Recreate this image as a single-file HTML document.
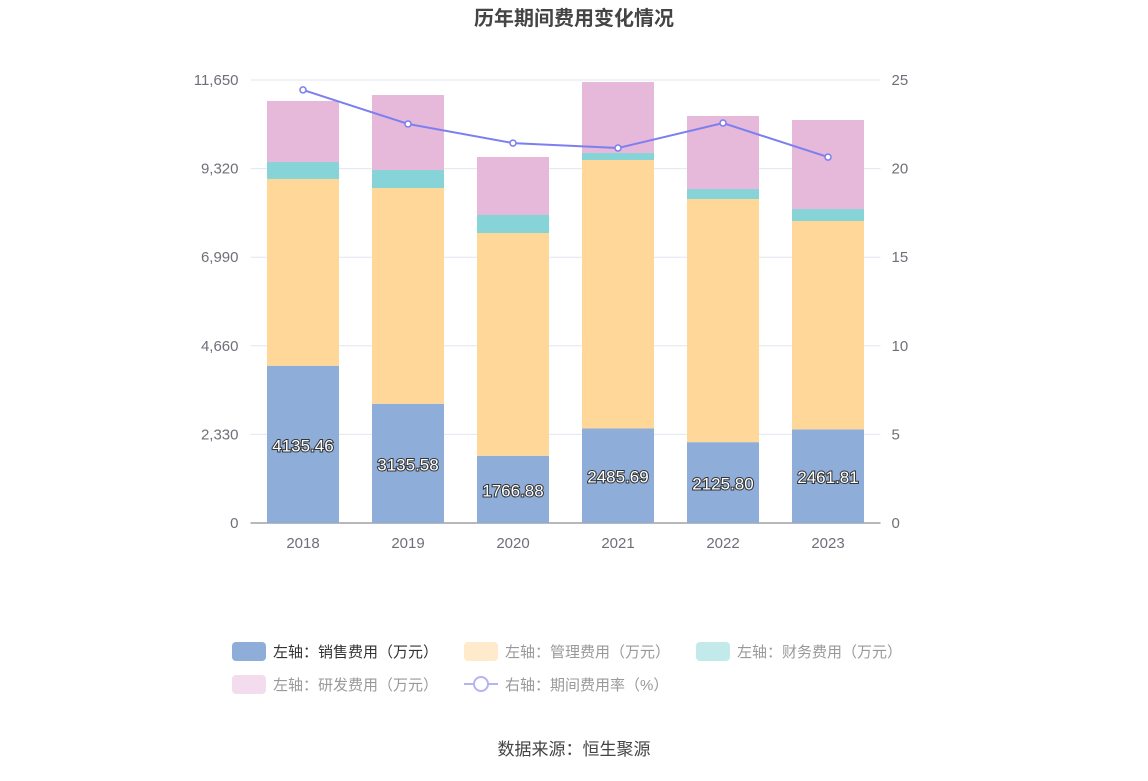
<!DOCTYPE html>
<html><head><meta charset="utf-8"><style>
body{margin:0;background:#fff;font-family:"Liberation Sans","Noto Sans CJK SC",sans-serif;}
</style></head><body>
<svg id="c" width="1148" height="776" xmlns="http://www.w3.org/2000/svg" style="font-family:'Liberation Sans','Noto Sans CJK SC',sans-serif">
<text x="574" y="25" text-anchor="middle" font-size="20" font-weight="bold" fill="#444">历年期间费用变化情况</text>
<g id="grid"></g><g id="bars"></g><g id="line"></g><g id="labels"></g>
<g font-size="15">
<rect x="232" y="642" width="34" height="19" rx="4" fill="#8eadd9"/><text x="273" y="657" fill="#333">左轴：销售费用（万元）</text>
<rect x="464" y="642" width="34" height="19" rx="4" fill="#ffebcc"/><text x="505" y="657" fill="#999">左轴：管理费用（万元）</text>
<rect x="696" y="642" width="34" height="19" rx="4" fill="#c2eaea"/><text x="737" y="657" fill="#999">左轴：财务费用（万元）</text>
<rect x="232" y="675" width="34" height="19" rx="4" fill="#f3dcee"/><text x="273" y="690" fill="#999">左轴：研发费用（万元）</text>
<line x1="464" y1="684" x2="498" y2="684" stroke="#b3b3f5" stroke-width="2"/><circle cx="481" cy="684" r="7" fill="#fff" stroke="#b3b3f5" stroke-width="2"/><text x="505" y="690" fill="#999">右轴：期间费用率（%）</text>
</g>
<text x="574" y="755" text-anchor="middle" font-size="17" fill="#444">数据来源：恒生聚源</text>
</svg>
<script>
const years=["2018","2019","2020","2021","2022","2023"];
const sales=[4135.46,3135.58,1766.88,2485.69,2125.80,2461.81];
const mgmt=[4912,5674,5859,7060,6394,5480];
const fin=[447,473,474,184,263,315];
const rd=[1604,1972,1525,1867,1920,2341];
const rate=[24.44,22.52,21.44,21.16,22.57,20.65];
const leftTicks=[0,2330,4660,6990,9320,11650];
const rightTicks=[0,5,10,15,20,25];
const NS="http://www.w3.org/2000/svg";
const x0=250.5,x1=880.5,yb=523,yt=80;
const yL=v=>yb-v/11650*(yb-yt);
const yR=v=>yb-v/25*(yb-yt);
const band=(x1-x0)/years.length;
const xc=i=>x0+band*(i+0.5);
function el(t,a,p){const e=document.createElementNS(NS,t);for(const k in a)e.setAttribute(k,a[k]);document.getElementById(p).appendChild(e);return e;}
leftTicks.forEach((v,i)=>{
 const l=el('line',{x1:x0,x2:x1,y1:yL(v),y2:yL(v),stroke:i?'#e0e6f1':'#6e7079'},'grid');
 
 
 const t=el('text',{x:x0-12,y:yL(v)+5,'text-anchor':'end','font-size':15,fill:'#6e7079'},'grid');t.textContent=v.toLocaleString('en-US');
 
 
});
rightTicks.forEach(v=>{
 const t=el('text',{x:x1+11,y:yR(v)+5,'font-size':15,fill:'#6e7079'},'grid');t.textContent=v;
 
 
});
years.forEach((y,i)=>{
 const t=el('text',{x:xc(i),y:yb+25,'text-anchor':'middle','font-size':15,fill:'#6e7079'},'grid');t.textContent=y;
 
 
 let base=0;const bw=72;
 [[sales,'#8eadd9','bar-sales'],[mgmt,'#ffd899','bar-mgmt'],[fin,'#86d4d8','bar-finance'],[rd,'#e6b8d9','bar-rd']].forEach(([arr,c,n])=>{
  const top=base+arr[i];
  const r=el('rect',{x:xc(i)-bw/2,y:yL(top),width:bw,height:yL(base)-yL(top),fill:c},'bars');
  
  
  base=top;
 });
 const lb=el('text',{x:xc(i),y:(yL(0)+yL(sales[i]))/2+7,'text-anchor':'middle','font-size':17,fill:'#fff',stroke:'#333','stroke-width':2,'paint-order':'stroke'},'labels');
 lb.textContent=sales[i].toFixed(2);
 
 
});
el('line',{x1:x0,x2:x1,y1:yb,y2:yb,stroke:'#6e7079'},'grid');
const pl=el('polyline',{points:rate.map((v,i)=>xc(i)+','+yR(v)).join(' '),fill:'none',stroke:'#7b7ff0','stroke-width':2},'line');


rate.forEach((v,i)=>{
 const c=el('circle',{cx:xc(i),cy:yR(v),r:3,fill:'#fff',stroke:'#7b7ff0','stroke-width':1.5},'line');
 
 
});
</script>
</body></html>
